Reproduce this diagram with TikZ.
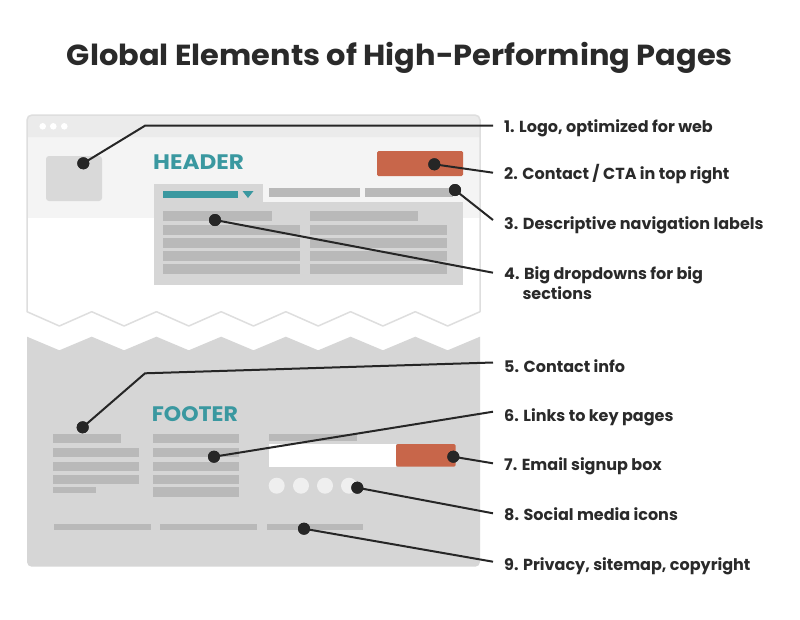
\documentclass[tikz,border=0pt]{standalone}
\usepackage{fontspec}
\setmainfont{Poppins}
\definecolor{teal}{HTML}{3A98A0}
\definecolor{ctaorange}{HTML}{C8664A}
\definecolor{dotc}{HTML}{262626}
\definecolor{txt}{HTML}{2A2A2A}
\definecolor{panel}{HTML}{D6D6D6}
\definecolor{barc}{HTML}{B9B9B9}
\definecolor{hdrbg}{HTML}{F4F4F4}
\definecolor{topbar}{HTML}{EBEBEB}
\definecolor{outline}{HTML}{DEDEDE}
\definecolor{logoc}{HTML}{D9D9D9}
\definecolor{circc}{HTML}{EFEFEF}
\begin{document}
\begin{tikzpicture}[x=1pt,y=-1pt,
  dot/.style={circle,fill=dotc,inner sep=0pt,minimum size=12pt},
  lead/.style={draw=dotc,line width=2pt},
  lab/.style={anchor=base west,inner sep=0pt,text=txt,font=\bfseries\fontsize{16}{20}\selectfont},
  sect/.style={anchor=base west,inner sep=0pt,text=teal,font=\bfseries\fontsize{21}{24}\selectfont\addfontfeatures{FakeStretch=1.1}}]
\useasboundingbox[fill=white] (0,0) rectangle (800,619);
% title
\node[anchor=base,inner sep=0pt,text=txt,font=\bfseries\fontsize{29}{32}\selectfont\addfontfeatures{FakeStretch=1.05}] (title) at (400,65) {Global Elements of High-Performing Pages};
% window upper part
\path[fill=white] (27,311.7) {[rounded corners=5pt] -- (27,115) -- (480,115)} -- (480,311.7)
  \foreach \i in {1,...,14}{ -- ({480-\i*32.357},{ifthenelse(mod(\i,2)==1,326,311.7)}) } -- cycle;
\path[fill=hdrbg] (27,137) rectangle (480,218);
\path[fill=topbar] (27,137) {[rounded corners=5pt] -- (27,115) -- (480,115)} -- (480,137) -- cycle;
\draw[outline,line width=1.5pt,line join=round] (27,311.7) {[rounded corners=5pt] -- (27,115) -- (480,115)} -- (480,311.7)
  \foreach \i in {1,...,14}{ -- ({480-\i*32.357},{ifthenelse(mod(\i,2)==1,326,311.7)}) } -- cycle;
\foreach \x in {42.7,53.3,64.3} \fill[white] (\x,126.3) circle[radius=3.3];
% logo
\fill[logoc,rounded corners=3pt] (46,156) rectangle (102,201);
% header text
\node[sect] (hdr) at (153,169) {HEADER};
% CTA
\fill[ctaorange,rounded corners=1.5pt] (377,151) rectangle (463,176);
% nav
\fill[panel] (154,184) rectangle (263,202);
\fill[panel] (154,202) rectangle (463,285);
\fill[teal] (163,191) rectangle (238,198);
\fill[teal] (242.5,191) -- (253.5,191) -- (248,198) -- cycle;
\fill[barc] (269,188) rectangle (360,197);
\fill[barc] (365,188) rectangle (453,197);
\fill[barc] (163,211) rectangle (272,221);
\fill[barc] (310,211) rectangle (418,221);
\foreach \y in {225,238,251,264}{
  \fill[barc] (163,\y) rectangle (300,\y+10);
  \fill[barc] (310,\y) rectangle (447,\y+10);
}
% footer
\path[fill=panel] (27,336.7) \foreach \i in {1,...,14}{ -- ({27+\i*32.357},{ifthenelse(mod(\i,2)==1,350.3,336.7)}) }
  {[rounded corners=4.7pt] -- (480,566.7) -- (27,566.7)} -- cycle;
\node[sect,font=\bfseries\fontsize{21}{24}\selectfont\addfontfeatures{FakeStretch=1.05}] (ftr) at (151.7,421) {FOOTER};
\fill[barc] (53,434) rectangle (121,443);
\foreach \y in {448,461.5,474.7}{\fill[barc] (53,\y) rectangle (139,\y+9.3);}
\fill[barc] (53,487.3) rectangle (96,493.3);
\foreach \y in {434,448,461.5,474.7,487.3}{\fill[barc] (153.3,\y) rectangle (239,\y+9.3);}
\fill[barc] (269,434) rectangle (356.7,440.7);
\fill[white] (269,444) rectangle (396,466.7);
\fill[ctaorange,rounded corners=1.5pt] (396,444) rectangle (455.7,466.7);
\foreach \x in {276.7,301,325,349}{\fill[circc] (\x,485.7) circle[radius=8];}
\fill[barc] (53.7,524.3) rectangle (150.7,530);
\fill[barc] (160,524.3) rectangle (256.7,530);
\fill[barc] (266.7,524.3) rectangle (363.3,530);
% labels
\node[lab] (l1) at (504,132.3) {1. Logo, optimized for web};
\node[lab] (l2) at (504,179) {2. Contact / CTA in top right};
\node[lab] (l3) at (504,229.3) {3. Descriptive navigation labels};
\node[lab] (l4) at (504,279.3) {4. Big dropdowns for big};
\node[lab] (l4b) at (522.3,299.5) {sections};
\node[lab] (l5) at (504,372.3) {5. Contact info};
\node[lab] (l6) at (504,421) {6. Links to key pages};
\node[lab] (l7) at (504,470) {7. Email signup box};
\node[lab] (l8) at (504,520) {8. Social media icons};
\node[lab] (l9) at (504,570) {9. Privacy, sitemap, copyright};
% dots
\node[dot] (d1) at (83.3,163.3) {};
\node[dot] (d2) at (434.3,164.3) {};
\node[dot] (d3) at (455,190) {};
\node[dot] (d4) at (215,220) {};
\node[dot] (d5) at (82.7,427.3) {};
\node[dot] (d6) at (214,456.7) {};
\node[dot] (d7) at (453.3,456.7) {};
\node[dot] (d8) at (357.3,487.7) {};
\node[dot] (d9) at (304,528.7) {};
% leader ends
\coordinate (e1) at (493,125.7);
\coordinate (e2) at (493,172.7);
\coordinate (e3) at (493,220);
\coordinate (e4) at (493,272.7);
\coordinate (e5) at (493,362.5);
\coordinate (e6) at (493,411.7);
\coordinate (e7) at (493,463.3);
\coordinate (e8) at (493,513.3);
\coordinate (e9) at (493,561.7);
\coordinate (k1) at (145,125.7);
\coordinate (k5) at (145,373.3);
\draw[lead] (d1.center) -- (k1) -- (e1);
\draw[lead] (d2.center) -- (e2);
\draw[lead] (d3.center) -- (e3);
\draw[lead] (d4.center) -- (e4);
\draw[lead] (d5.center) -- (k5) -- (e5);
\draw[lead] (d6.center) -- (e6);
\draw[lead] (d7.center) -- (e7);
\draw[lead] (d8.center) -- (e8);
\draw[lead] (d9.center) -- (e9);
\foreach \n in {1,...,9}{\fill[dotc] (d\n) circle[radius=6];}
\end{tikzpicture}
\end{document}
